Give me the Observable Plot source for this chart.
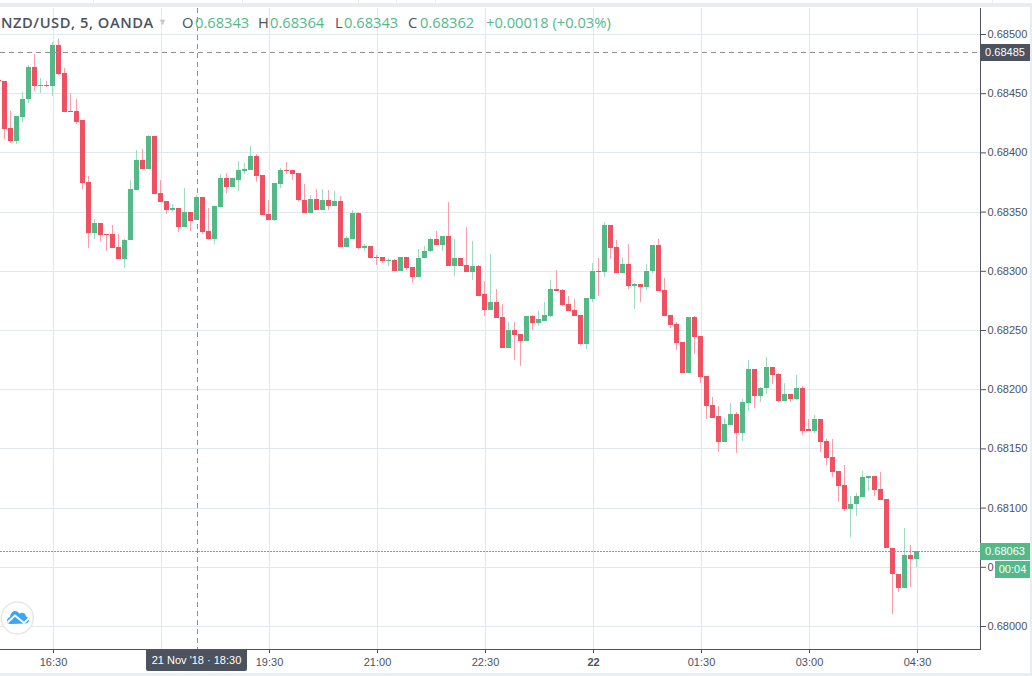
<!DOCTYPE html>
<html><head><meta charset="utf-8">
<script src="https://cdn.jsdelivr.net/npm/d3@7"></script>
<script src="https://cdn.jsdelivr.net/npm/@observablehq/plot@0.6"></script>
<style>
html,body{margin:0;padding:0;background:#fff}
#wrap{position:relative;width:1032px;height:676px;overflow:hidden;background:#fff;font-family:"Liberation Sans",Arial,sans-serif}
#wrap svg.chart{position:absolute;left:0;top:0}
.band{position:absolute;background:#e9edf0}
.hd{position:absolute;top:14px;font-family:"Open Sans",sans-serif;font-size:14.7px;line-height:17px;white-space:nowrap;color:#53b987}
.hd.k{color:#4c525e}
.tag{position:absolute;color:#fff;font-size:11px;text-align:center;white-space:nowrap}
</style></head><body>
<div id="wrap"></div>
<script>
// prices in points (1e-5), bar -1 is the partly visible first candle
const opens=[68461,68460,68421,68410,68430,68445,68472,68456,68457,68456,68491,68467,68435,68435,68427,68375,68332,68340,68331,68331,68320,68310,68326,68368,68394,68386,68414,68366,68359,68351,68353,68337,68350,68343,68362,68334,68327,68354,68378,68371,68377,68384,68385,68397,68381,68348,68343,68373,68385,68385,68383,68360,68349,68361,68351,68360,68355,68359,68320,68327,68349,68319,68321,68312,68312,68308,68309,68300,68312,68303,68295,68311,68317,68327,68322,68329,68304,68311,68305,68299,68304,68280,68267,68274,68261,68235,68250,68247,68241,68262,68256,68258,68262,68285,68284,68272,68267,68263,68238,68276,68300,68299,68339,68320,68298,68306,68287,68289,68286,68300,68322,68284,68263,68255,68240,68214,68261,68245,68211,68187,68177,68155,68170,68179,68163,68188,68217,68194,68201,68219,68213,68190,68196,68192,68201,68166,68165,68175,68156,68143,68131,68119,68099,68103,68109,68125,68127,68116,68107,68066,68044,68032,68060,68057];
const closes=[68460,68420,68410,68431,68445,68472,68456,68457,68456,68491,68466,68434,68434,68426,68374,68332,68340,68330,68330,68319,68310,68326,68369,68394,68386,68414,68365,68358,68351,68353,68337,68350,68342,68362,68333,68327,68355,68378,68371,68378,68385,68386,68397,68380,68347,68343,68374,68385,68384,68382,68360,68349,68361,68351,68360,68355,68359,68320,68328,68349,68319,68321,68311,68311,68308,68309,68300,68312,68302,68295,68311,68317,68327,68322,68329,68304,68311,68304,68299,68304,68279,68267,68274,68260,68235,68250,68246,68241,68262,68256,68259,68263,68285,68283,68271,68266,68262,68238,68277,68300,68299,68339,68319,68298,68306,68287,68289,68286,68300,68322,68283,68262,68254,68239,68214,68261,68244,68210,68186,68176,68155,68171,68179,68163,68189,68217,68194,68201,68219,68212,68190,68196,68192,68201,68165,68165,68175,68155,68142,68130,68118,68099,68103,68110,68126,68127,68115,68106,68066,68044,68032,68060,68057,68063];
const highs=[68461,68460,68435,68431,68451,68474,68483,68463,68460,68493,68496,68471,68450,68445,68427,68380,68344,68340,68331,68339,68331,68327,68377,68402,68403,68415,68414,68377,68359,68356,68353,68370,68350,68364,68362,68353,68355,68382,68383,68378,68393,68391,68405,68399,68381,68360,68374,68387,68392,68385,68383,68373,68364,68369,68369,68368,68367,68363,68329,68351,68350,68323,68321,68313,68312,68311,68310,68312,68312,68303,68318,68321,68328,68334,68329,68358,68327,68311,68337,68325,68305,68291,68314,68285,68272,68257,68257,68247,68262,68263,68266,68274,68292,68301,68285,68279,68276,68263,68277,68307,68311,68341,68339,68326,68312,68323,68290,68289,68306,68322,68327,68294,68263,68257,68240,68261,68262,68245,68211,68193,68186,68176,68188,68181,68192,68225,68217,68202,68227,68219,68214,68205,68196,68212,68203,68175,68178,68175,68158,68158,68131,68136,68110,68112,68131,68127,68127,68130,68107,68066,68044,68083,68068,68063];
const lows=[68460,68411,68408,68407,68426,68442,68452,68450,68455,68448,68465,68434,68434,68424,68369,68319,68327,68325,68317,68319,68310,68302,68326,68368,68386,68386,68365,68358,68348,68350,68333,68337,68334,68343,68331,68326,68323,68354,68366,68371,68367,68382,68385,68375,68347,68343,68342,68370,68382,68377,68359,68349,68349,68351,68351,68351,68355,68320,68320,68327,68318,68317,68311,68305,68307,68304,68300,68300,68301,68290,68295,68311,68316,68322,68317,68304,68296,68304,68299,68292,68279,68262,68267,68260,68235,68235,68225,68220,68241,68250,68253,68258,68261,68283,68270,68266,68262,68237,68234,68274,68279,68295,68310,68298,68298,68285,68268,68274,68284,68298,68283,68262,68252,68233,68214,68214,68230,68205,68175,68176,68147,68155,68170,68146,68156,68182,68184,68189,68196,68204,68189,68190,68189,68191,68161,68165,68163,68147,68136,68126,68105,68097,68075,68093,68109,68114,68110,68106,68066,68010,68029,68032,68033,68050];
const priceTicks=[68000,68050,68100,68150,68200,68250,68300,68350,68400,68450,68500];
const timeBars=[8,26,44,62,80,116,134,152];
const timeLabels=["16:30","","19:30","21:00","22:30","01:30","03:00","04:30"];
const dayBars=[98];
const dayLabels=["22"];
const crossBar=32, crossPrice=68485, lastPrice=68063;

const bars=opens.map((o,i)=>({k:i-1,open:o/1e5,close:closes[i]/1e5,high:highs[i]/1e5,low:lows[i]/1e5,up:closes[i]>=o}));
const GREEN="#53b987",RED="#ef5062",GRID="#e1e9f0";
const tickIdx=[...timeBars,...dayBars];

const plot=Plot.plot({
  width:1032,height:676,marginLeft:0,marginRight:52,marginTop:8,marginBottom:27,
  x:{type:"linear",domain:[-2/3,976/6],range:[0,980],axis:null},
  y:{type:"linear",domain:[(68500-615/1.184)/1e5,(68500+26/1.184)/1e5],range:[649,8],axis:null},
  style:{background:"transparent",color:"#4c525e",fontFamily:'"Liberation Sans",Arial,sans-serif',fontSize:"11px"},
  className:"chart",
  marks:[
    Plot.ruleX(tickIdx,{x:d=>d,dx:1,stroke:GRID,strokeWidth:1,shapeRendering:"crispEdges"}),
    Plot.ruleY(priceTicks,{y:d=>d/1e5,stroke:GRID,strokeWidth:1,shapeRendering:"crispEdges"}),
    Plot.ruleX(bars,{x:"k",y1:"low",y2:"high",stroke:d=>d.up?"#9edcbf":"#fb9eab",strokeWidth:1,shapeRendering:"crispEdges"}),
    Plot.ruleX(bars,{x:"k",y1:"open",y2:"close",stroke:d=>d.up?GREEN:RED,strokeWidth:5,shapeRendering:"crispEdges"}),
    Plot.ruleY([lastPrice],{y:d=>d/1e5,stroke:GREEN,strokeWidth:1,strokeDasharray:"2,1",shapeRendering:"crispEdges"}),
    Plot.ruleY([crossPrice],{y:d=>d/1e5,stroke:"#8b8f96",strokeWidth:1,strokeDasharray:"5,4",shapeRendering:"crispEdges"}),
    Plot.ruleX([crossBar],{x:d=>d,dx:1,stroke:"#8b8f96",strokeWidth:1,strokeDasharray:"5,4",shapeRendering:"crispEdges"}),
    Plot.frame({anchor:"right",stroke:"#50535e"}),
    Plot.frame({anchor:"bottom",stroke:"#50535e"}),
    Plot.axisY({anchor:"right",ticks:priceTicks.map(d=>d/1e5),tickFormat:d=>Math.abs(d-0.6805)<1e-9?"0":d.toFixed(5),tickSize:5,tickPadding:2,label:null,textStroke:"none"}),
    Plot.axisX({anchor:"bottom",ticks:timeBars,tickFormat:d=>timeLabels[timeBars.indexOf(d)],tickSize:4,tickPadding:5,label:null,dx:1}),
    Plot.axisX({anchor:"bottom",ticks:dayBars,tickFormat:d=>dayLabels[dayBars.indexOf(d)],tickSize:4,tickPadding:5,label:null,dx:1,fontWeight:"bold"})
  ]
});
const wrap=document.getElementById("wrap");
wrap.appendChild(plot);

function add(cls,css,text){const e=document.createElement("div");e.className=cls;e.style.cssText=css;if(text)e.textContent=text;wrap.appendChild(e);return e;}
add("band","left:0;top:3px;width:1032px;height:4px");
add("band","left:0;top:673px;width:1032px;height:3px");
add("band","left:1030px;top:3px;width:2px;height:673px");
[93,242,358,396,435,992].forEach(x=>add("band",`left:${x}px;top:0;width:1px;height:3px`));
const header=[["k",1,"NZD/USD, 5, OANDA"],["k",182,"O"],["",195,"0.68343"],["k",258,"H"],["",270,"0.68364"],["k",335,"L"],["",344,"0.68343"],["k",408,"C"],["",420,"0.68362"],["",486,"+0.00018 (+0.03%)"]];
header.forEach(([c,x,t])=>add("hd "+c,`left:${x}px`,t));
const title=wrap.querySelector(".hd.k");title.style.fontWeight="600";title.style.letterSpacing=".55px";
add("hd","left:158px;top:13px;color:#c5c8cd;font-size:9px","▼");
add("tag","left:980px;top:44px;width:50px;height:17px;line-height:17px;background:#4c525e",(crossPrice/1e5).toFixed(5));
add("tag","left:980px;top:543px;width:50px;height:17px;line-height:17px;background:"+GREEN,(lastPrice/1e5).toFixed(5));
add("tag","left:995px;top:561px;width:35px;height:17px;line-height:17px;background:"+GREEN,"00:04");
add("tag","left:146px;top:650px;width:101px;height:21px;line-height:21px;background:#4c525e;border-radius:0 0 2px 2px","21 Nov '18 · 18:30");
const logo=document.createElement("div");
logo.style.cssText="position:absolute;left:0;top:601px;width:35px;height:35px";
logo.innerHTML='<svg width="35" height="35" viewBox="0 0 35 35"><circle cx="17.3" cy="17" r="16" fill="#fff" stroke="#e8e8ec" stroke-width="1.5"/><path d="M7 20c0-2 1.500-3.500 3-4c.5-3.500 2.500-6 5-6c2 0 3.500 1 4.300 2.700c.8-.8 1.900-1 2.700-1c2.300 0 3.800 1.700 4 3.800c1.700.5 3 1.800 3 3.500c0 2-1.500 3.500-3.500 3.500L10.500 23c-2 0-3.500-1.200-3.500-3z" fill="#3ba7f3"/><path d="M7.500 21.500l7.500-7 9 7.500 5-5" fill="none" stroke="#fff" stroke-width="1.800"/></svg>';
wrap.appendChild(logo);
</script>
</body></html>
